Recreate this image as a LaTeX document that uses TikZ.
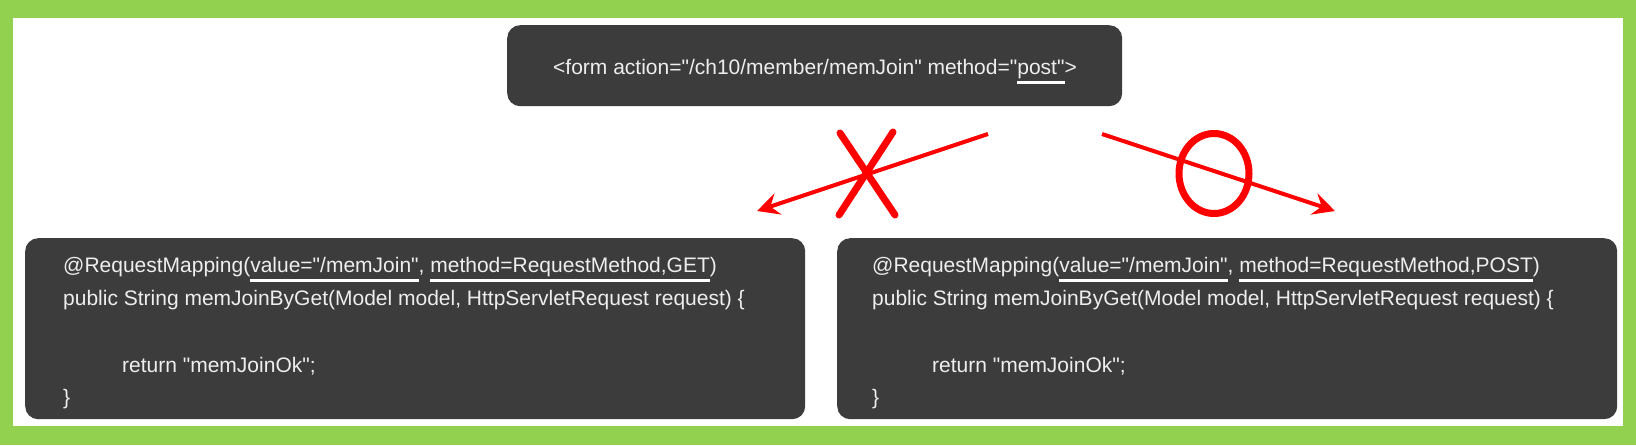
\documentclass[tikz,border=0pt]{standalone}
\usepackage{fontspec}
\setmainfont{Liberation Sans}[Ligatures=TeXOff]
\usetikzlibrary{arrows.meta}
\definecolor{framegreen}{HTML}{92D050}
\definecolor{boxgray}{HTML}{3C3C3C}
\definecolor{codetext}{HTML}{EEEEEE}
\definecolor{markred}{HTML}{FF0000}
\newcommand\ulmark[1]{\setbox0\hbox{#1}\rlap{\textcolor{white}{\rule[-10pt]{\wd0}{3pt}}}\box0}
\begin{document}
\begin{tikzpicture}[x=1pt,y=-1pt,
  codebox/.style={fill=boxgray, rounded corners=13pt, inner sep=0pt, anchor=north west},
  codeline/.style={anchor=base west, inner sep=0pt, text=codetext, font=\fontsize{21}{25}\selectfont},
  redarrow/.style={draw=markred, line width=4pt, -{Stealth[length=22pt,width=22pt,inset=8pt]}},
  redmark/.style={draw=markred, line width=7pt, line cap=round}]
\fill[framegreen] (0,0) rectangle (1636,445);
\fill[white] (13,18) rectangle (1623,426);
\path[use as bounding box] (0,0) rectangle (1636,445);
% boxes
\node[codebox, minimum width=615pt, minimum height=81pt] (form) at (507,25) {};
\node[codebox, minimum width=780pt, minimum height=181pt] (getbox) at (25,238) {};
\node[codebox, minimum width=780pt, minimum height=181pt] (postbox) at (837,238) {};
% texts
\node[codeline] (formtext) at (553,74) {<form action="/ch10/member/memJoin" method="\ulmark{post"}>};
\node[codeline] (g1) at (63,272) {@RequestMapping(\ulmark{value="/memJoin"}, \ulmark{method=RequestMethod,GET})};
\node[codeline] (g2) at (63,305) {public String memJoinByGet(Model model, HttpServletRequest request) \{};
\node[codeline] (g3) at (122,372) {return "memJoinOk";};
\node[codeline] (g4) at (63,404) {\}};
\node[codeline] (p1) at (872,272) {@RequestMapping(\ulmark{value="/memJoin"}, \ulmark{method=RequestMethod,POST})};
\node[codeline] (p2) at (872,305) {public String memJoinByGet(Model model, HttpServletRequest request) \{};
\node[codeline] (p3) at (932,372) {return "memJoinOk";};
\node[codeline] (p4) at (872,404) {\}};
% X mark
\coordinate (xa1) at (840,133); \coordinate (xa2) at (895,215);
\coordinate (xb1) at (893,132); \coordinate (xb2) at (839,215);
\draw[redmark] (xa1) -- (xa2);
\draw[redmark] (xb1) -- (xb2);
% O mark
\coordinate (ocenter) at (1214,173.5);
\draw[markred, line width=7pt] (ocenter) ellipse [x radius=35pt, y radius=40pt];
% arrows
\coordinate (gstart) at (988,134); \coordinate (gend) at (757,211);
\coordinate (pstart) at (1102,134); \coordinate (pend) at (1335,211);
\draw[redarrow] (gstart) -- (gend);
\draw[redarrow] (pstart) -- (pend);
\end{tikzpicture}
\end{document}
